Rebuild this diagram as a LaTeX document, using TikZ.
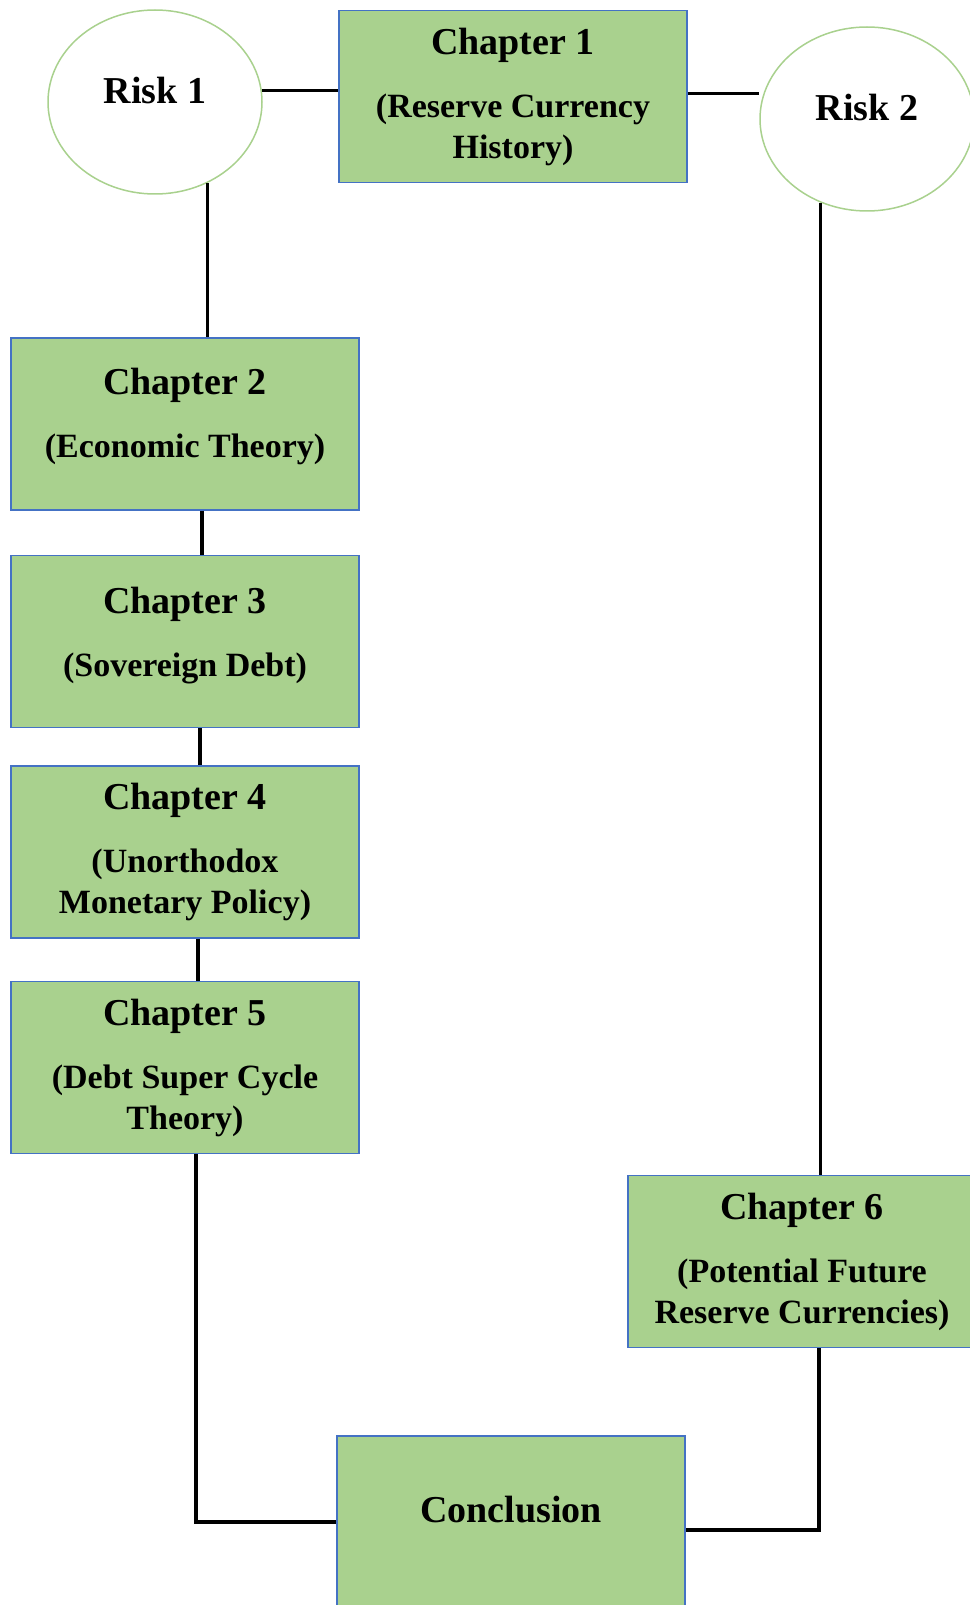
\documentclass[tikz,border=0pt]{standalone}
\usepackage{fontspec}
\setmainfont{Liberation Serif}
\usepackage{xcolor}
\usepackage{tikz}
\usetikzlibrary{positioning,shapes.geometric,calc}
\definecolor{chapgreen}{HTML}{A9D18E}
\definecolor{chapblue}{HTML}{4472C4}
\definecolor{ringgreen}{HTML}{A9D18E}
\newcommand{\chaptitle}[1]{{\fontsize{38}{41}\selectfont #1}\\[22pt]}
\tikzset{
  chap/.style={draw=chapblue, line width=1.5pt, fill=chapgreen, align=center,
    minimum width=348pt, minimum height=172pt, inner sep=0pt,
    font=\bfseries\fontsize{34}{41}\selectfont},
  risk/.style={draw=ringgreen, line width=1.5pt, ellipse, fill=white,
    minimum width=214pt, minimum height=184pt, inner sep=0pt,
    text height=25pt, text depth=22pt,
    font=\bfseries\fontsize{38}{41}\selectfont},
  conn/.style={line width=3.3pt, black}
}

\begin{document}
\begin{tikzpicture}[x=1pt, y=-1pt]
    \useasboundingbox (0,0) rectangle (969,1605);

    % top row
    \node[risk] (risk1) at (155,102) {Risk 1};
    \node[chap] (ch1) at (513,96.5) {\chaptitle{Chapter 1}(Reserve Currency\\History)};
    \node[risk] (risk2) at (867,119) {Risk 2};

    % left column
    \node[chap, text depth=22pt] (ch2) at (185,424) {\chaptitle{Chapter 2}(Economic Theory)};
    \node[chap, text depth=20pt, below=44pt of ch2] (ch3) {\chaptitle{Chapter 3}(Sovereign Debt)};
    \node[chap, below=37pt of ch3] (ch4) {\chaptitle{Chapter 4}(Unorthodox\\Monetary Policy)};
    \node[chap, below=42pt of ch4] (ch5) {\chaptitle{Chapter 5}(Debt Super Cycle\\Theory)};

    % right side and bottom
    \node[chap] (ch6) at (802,1261.5) {\chaptitle{Chapter 6}(Potential Future\\Reserve Currencies)};
    \node[chap, font=\bfseries\fontsize{38}{41}\selectfont, text height=25pt, text depth=25pt] (concl) at (511,1522) {Conclusion};

    \draw[conn] (risk1.6) -- (risk1.6 -| ch1.west);
    \draw[conn] ([yshift=3pt]ch1.east) -- ([yshift=3pt]ch1.east -| risk2.west);
    \draw[conn] (risk1.-57) -- (risk1.-57 |- ch2.north);
    \foreach \a/\b/\s in {ch2/ch3/17, ch3/ch4/15, ch4/ch5/13}
      \draw[conn] ([xshift=\s pt]\a.south) -- ([xshift=\s pt]\b.north);
    \draw[conn] ([xshift=11pt]ch5.south) |- (concl.west);
    \draw[conn] (risk2.241) -- (risk2.241 |- ch6.north);
    \draw[conn] ([xshift=17pt]ch6.south) |- ([yshift=-8pt]concl.east);
\end{tikzpicture}
\end{document}
